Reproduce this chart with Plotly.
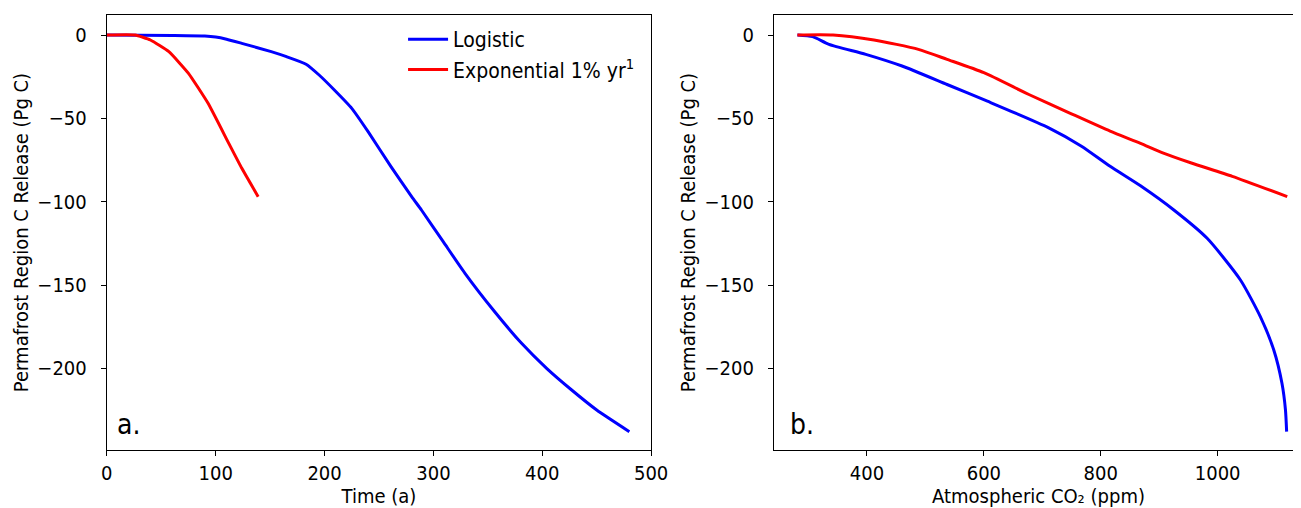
import plotly.graph_objects as go

# Panel a: time (years) vs permafrost C release (Pg C)
logistic_time = [0, 60, 90, 100, 110, 124, 151, 165, 183, 195, 209, 225, 240, 261, 280, 289, 309, 329, 355, 381, 404, 427, 450, 480]
logistic_release_t = [0, -0.3, -0.6, -1.2, -2.5, -5, -10, -13, -17.5, -24, -33, -44, -58, -79, -97, -105, -124, -143, -165, -185, -200, -213, -225, -238]
exp_time = [0, 26, 40, 57, 75, 93, 112, 124, 139]
exp_release_t = [0, 0, -3, -10, -23, -41, -65, -80, -97]

# Panel b: atmospheric CO2 (ppm) vs permafrost C release (Pg C)
logistic_co2 = [281, 307, 335, 398, 460, 537, 606, 711, 767, 816, 868, 925, 982, 1039, 1073, 1096, 1110, 1116, 1118]
logistic_release_c = [0, -1, -5.6, -11.6, -18.6, -29.7, -39.7, -55.7, -66.7, -78.8, -90.5, -105, -122, -147, -169, -189, -209, -225, -238]
exp_co2 = [281, 342, 412, 488, 537, 600, 677, 746, 816, 868, 906, 955, 1025, 1119]
exp_release_c = [0, 0, -3, -8.6, -14.6, -22.6, -35.7, -46.7, -57.7, -65, -70.7, -76.8, -84.8, -97]

y_ticks = [0, -50, -100, -150, -200]
y_tick_text = ["0", "\u221250", "\u2212100", "\u2212150", "\u2212200"]

BLUE = "#0000ff"
RED = "#ff0000"
FONT = "DejaVu Sans Condensed, DejaVu Sans"
TS = 20

W, H = 1312, 500

fig = go.Figure()
fig.add_trace(go.Scatter(x=logistic_time, y=logistic_release_t, mode="lines",
                         line=dict(color=BLUE, width=3, shape="spline", smoothing=0.5), name="Logistic",
                         xaxis="x", yaxis="y"))
fig.add_trace(go.Scatter(x=exp_time, y=exp_release_t, mode="lines",
                         line=dict(color=RED, width=3, shape="spline", smoothing=0.4),
                         name="Exponential 1% yr<sup>1</sup>",
                         xaxis="x", yaxis="y"))
fig.add_trace(go.Scatter(x=logistic_co2, y=logistic_release_c, mode="lines",
                         line=dict(color=BLUE, width=3, shape="spline", smoothing=0.6), showlegend=False,
                         xaxis="x2", yaxis="y2"))
fig.add_trace(go.Scatter(x=exp_co2, y=exp_release_c, mode="lines",
                         line=dict(color=RED, width=3, shape="spline", smoothing=0.6), showlegend=False,
                         xaxis="x2", yaxis="y2"))

axis_common = dict(showline=True, linecolor="black", linewidth=1.2, ticks="outside",
                   ticklen=5, tickwidth=1.2, tickcolor="black", showgrid=False,
                   zeroline=False, tickfont=dict(family=FONT, size=TS, color="black"))
ylab = "Permafrost Region C Release (Pg C)"

y_dom = [1 - 442 / H, 1 - 7 / H]

fig.update_layout(
    width=W, height=H,
    margin=dict(l=0, r=0, t=0, b=0),
    paper_bgcolor="white", plot_bgcolor="white",
    font=dict(family=FONT, size=TS, color="black"),
    xaxis=dict(domain=[94.5 / W, 648.5 / W], range=[0, 500], tickvals=[0, 100, 200, 300, 400, 500],
               mirror=True, anchor="y",
               title=dict(text="Time (a)", font=dict(family=FONT, size=TS), standoff=6),
               **axis_common),
    yaxis=dict(domain=y_dom, range=[-249, 12], tickvals=y_ticks, ticktext=y_tick_text,
               mirror=True, anchor="x", ticklabelstandoff=10,
               title=dict(text=ylab, font=dict(family=FONT, size=20), standoff=3),
               **axis_common),
    xaxis2=dict(domain=[773.6 / W, 1.0], range=[241, 1146], tickvals=[400, 600, 800, 1000],
                mirror=True, anchor="y2",
                title=dict(text="Atmospheric CO\u2082 (ppm)", font=dict(family=FONT, size=TS), standoff=6),
                **axis_common),
    yaxis2=dict(domain=y_dom, range=[-249, 12], tickvals=y_ticks, ticktext=y_tick_text,
                mirror=False, anchor="x2", ticklabelstandoff=10,
                title=dict(text=ylab, font=dict(family=FONT, size=20), standoff=3),
                **axis_common),
    legend=dict(x=396 / W, y=1 - 11 / H, xanchor="left", yanchor="top", xref="paper", yref="paper",
                bgcolor="rgba(0,0,0,0)", font=dict(family=FONT, size=21),
                itemwidth=40, tracegroupgap=0),
    showlegend=True,
    annotations=[
        dict(text="a.", x=0.0155, y=0.015, xref="x domain", yref="y domain",
             xanchor="left", yanchor="bottom", showarrow=False,
             font=dict(family=FONT, size=28, color="black")),
        dict(text="b.", x=0.027, y=0.015, xref="x2 domain", yref="y2 domain",
             xanchor="left", yanchor="bottom", showarrow=False,
             font=dict(family=FONT, size=28, color="black")),
    ],
)

fig.write_html("out.html")
